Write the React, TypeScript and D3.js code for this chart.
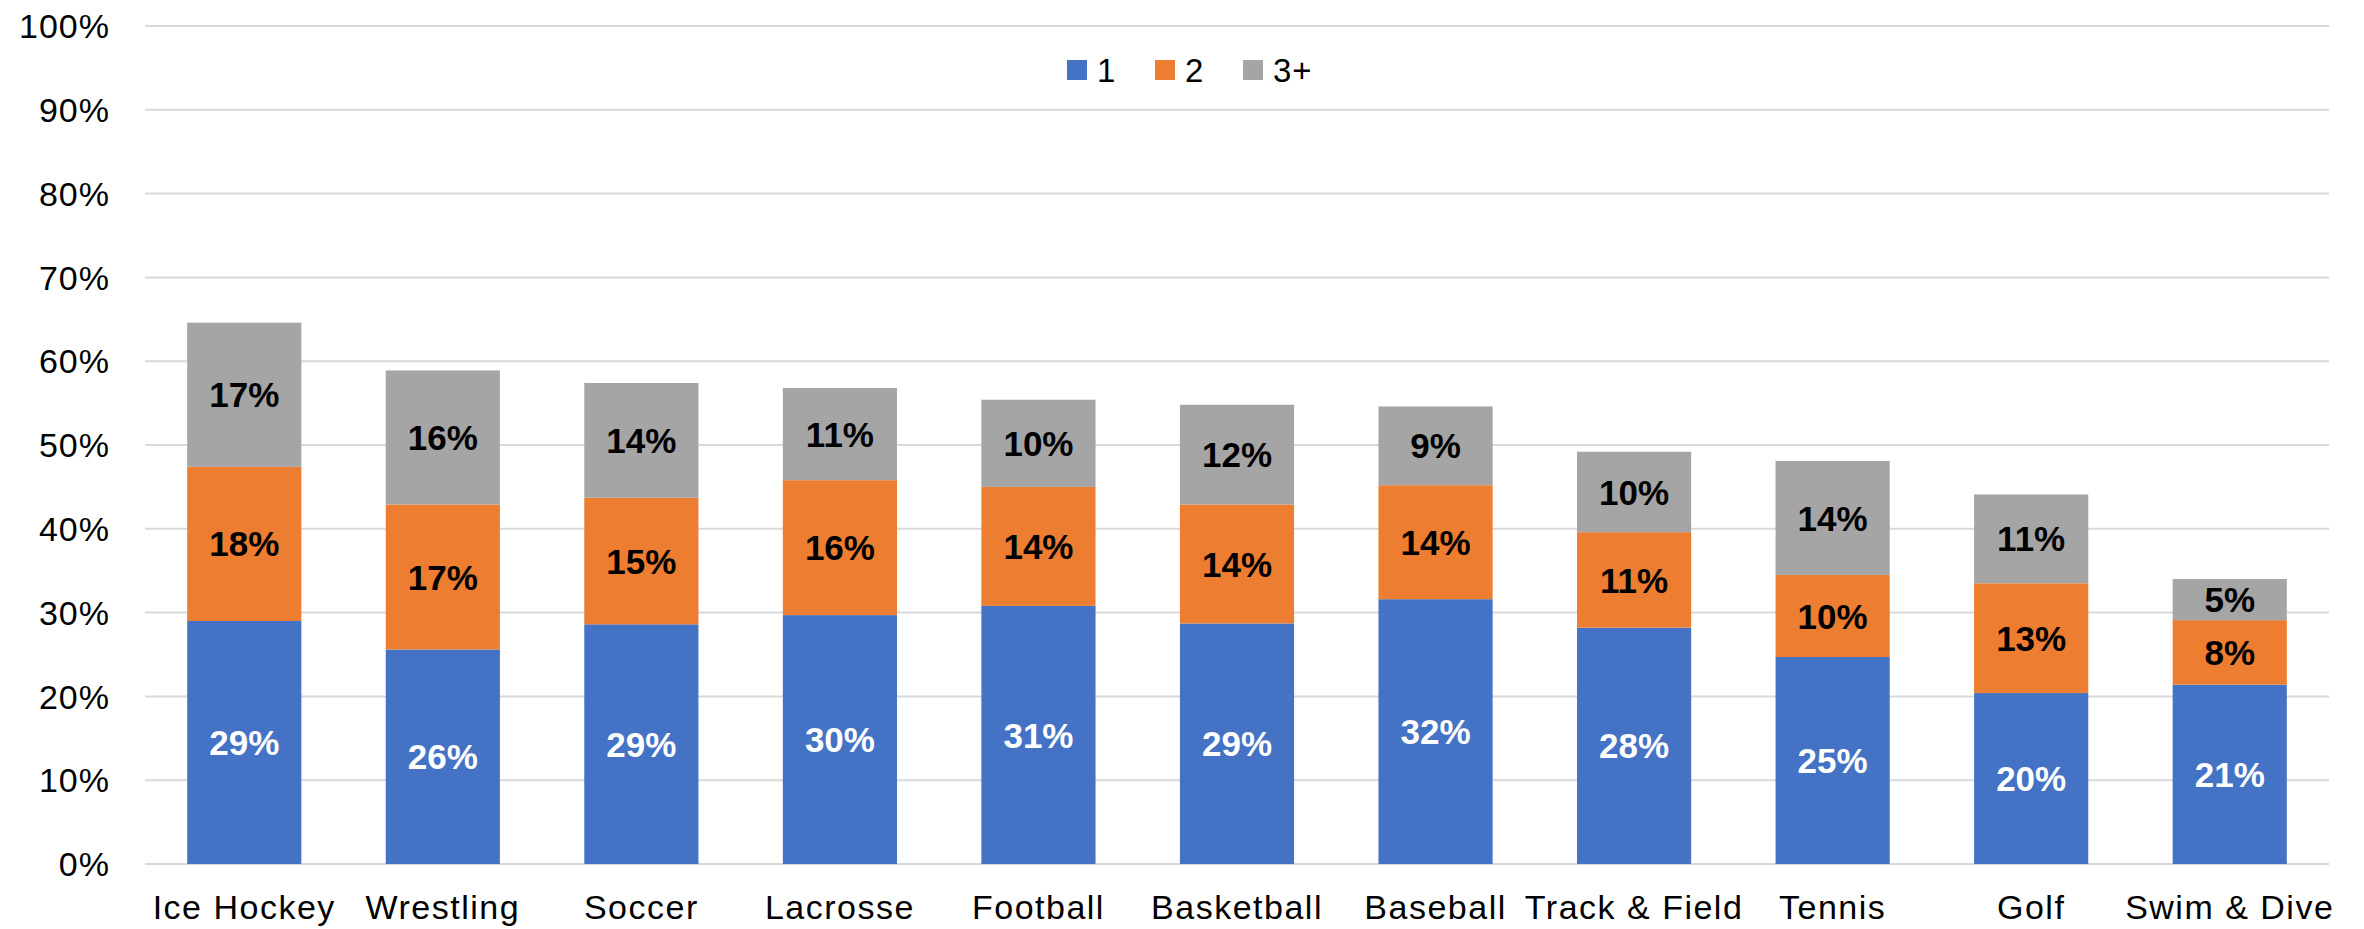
import React from "react";
import * as d3 from "d3";

const categories = ["Ice Hockey", "Wrestling", "Soccer", "Lacrosse", "Football", "Basketball", "Baseball", "Track & Field", "Tennis", "Golf", "Swim & Dive"];
const series1 = [29.0, 25.6, 28.6, 29.7, 30.8, 28.7, 31.6, 28.2, 24.7, 20.4, 21.4];
const series2 = [18.4, 17.3, 15.1, 16.1, 14.2, 14.2, 13.6, 11.4, 9.8, 13.1, 7.7];
const series3 = [17.2, 16.0, 13.7, 11.0, 10.4, 11.9, 9.4, 9.6, 13.6, 10.6, 4.9];
const seriesNames = ["1", "2", "3+"];
const seriesColors = ["#4472C4", "#ED7D31", "#A5A5A5"];
const labelColors = ["#ffffff", "#000000", "#000000"];
const yTicks = [0, 10, 20, 30, 40, 50, 60, 70, 80, 90, 100];

const W = 2364;
const H = 929;
const FONT = "'Liberation Sans', Arial, sans-serif";

export default function App() {
  const left = 145;
  const right = 2329;
  const top = 26;
  const bottom = 864;

  const x = d3.scaleBand<string>().domain(categories).range([left, right]).paddingInner(0.425).paddingOuter(0.2125);
  const y = d3.scaleLinear().domain([0, 100]).range([bottom, top]);

  const rows = categories.map((c, i) => ({ cat: c, s0: series1[i], s1: series2[i], s2: series3[i] }));
  const stack = d3.stack<any>().keys(["s0", "s1", "s2"]);
  const stacked = stack(rows);

  const legendItems = [
    { x: 1067, name: seriesNames[0], color: seriesColors[0] },
    { x: 1155, name: seriesNames[1], color: seriesColors[1] },
    { x: 1243, name: seriesNames[2], color: seriesColors[2] },
  ];

  return (
    <svg width={W} height={H} style={{ position: "absolute", left: 0, top: 0, background: "#fff" }} fontFamily={FONT}>
      {yTicks.map((t) => (
        <g key={t}>
          <line x1={left} x2={right} y1={y(t)} y2={y(t)} stroke="#d9d9d9" strokeWidth={2} />
          <text x={110} y={y(t)} dy="0.36em" textAnchor="end" fontSize={34} fill="#000" letterSpacing={1}>{t}%</text>
        </g>
      ))}
      {stacked.map((layer, li) => (
        <g key={li}>
          {layer.map((d, i) => {
            const bx = x(categories[i])!;
            const y0 = y(d[0]);
            const y1 = y(d[1]);
            const v = d[1] - d[0];
            return (
              <g key={i}>
                <rect x={bx} y={y1} width={x.bandwidth()} height={y0 - y1} fill={seriesColors[li]} />
                <text x={bx + x.bandwidth() / 2} y={(y0 + y1) / 2} dy="0.36em" textAnchor="middle" fontSize={35} fontWeight="bold" fill={labelColors[li]}>
                  {Math.round(v)}%
                </text>
              </g>
            );
          })}
        </g>
      ))}
      {categories.map((c) => (
        <text key={c} x={x(c)! + x.bandwidth() / 2} y={919} textAnchor="middle" fontSize={34} fill="#000" letterSpacing={1.5}>{c}</text>
      ))}
      {legendItems.map((l) => (
        <g key={l.name}>
          <rect x={l.x} y={60} width={20} height={20} fill={l.color} />
          <text x={l.x + 30} y={70} dy="0.36em" fontSize={33} fill="#000" letterSpacing={1}>{l.name}</text>
        </g>
      ))}
    </svg>
  );
}
